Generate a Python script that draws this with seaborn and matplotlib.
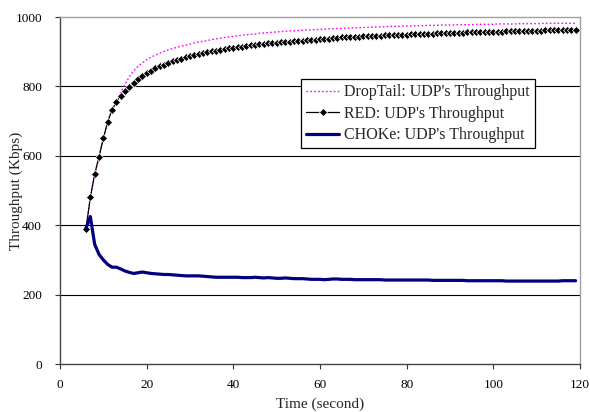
import seaborn as sns
import matplotlib.pyplot as plt
import pandas as pd

time = list(range(6, 120))

droptail = [390, 480, 547, 597, 650, 698, 732, 758, 782, 806,
            828, 845, 858, 868, 877, 884, 890, 896, 901, 905,
            909, 913, 916, 919, 922, 925, 928, 930, 932, 935,
            937, 939, 941, 943, 944, 946, 947, 949, 950, 951,
            953, 954, 955, 956, 957, 958, 959, 960, 960, 961,
            962, 963, 963, 964, 964, 965, 966, 966, 967, 967,
            968, 968, 969, 969, 970, 970, 971, 971, 972, 972,
            973, 973, 973, 974, 974, 974, 975, 975, 975, 976,
            976, 976, 977, 977, 977, 977, 978, 978, 978, 978,
            979, 979, 979, 979, 979, 980, 980, 980, 980, 980,
            981, 981, 981, 981, 981, 981, 982, 982, 982, 982,
            982, 982, 982, 982]

red = [390, 480, 547, 597, 650, 698, 732, 756, 773, 788,
       799, 810, 820, 830, 838, 845, 852, 858, 863, 868,
       872, 876, 880, 884, 887, 890, 893, 896, 899, 901,
       903, 905, 907, 910, 912, 914, 915, 917, 918, 920,
       921, 922, 924, 925, 926, 927, 928, 929, 930, 931,
       932, 933, 934, 935, 936, 937, 938, 939, 940, 941,
       941, 942, 943, 943, 944, 945, 945, 946, 946, 947,
       947, 948, 948, 949, 949, 950, 950, 951, 951, 952,
       952, 953, 953, 954, 954, 955, 955, 955, 956, 956,
       956, 957, 957, 957, 958, 958, 958, 959, 959, 959,
       960, 960, 960, 961, 961, 961, 962, 962, 962, 963,
       963, 963, 964, 964]

choke = [392, 425, 345, 316, 300, 287, 279, 279, 274, 268,
         264, 261, 263, 265, 263, 261, 260, 259, 258, 258,
         257, 256, 255, 254, 254, 254, 254, 253, 252, 251,
         250, 250, 250, 250, 250, 250, 249, 249, 249, 250,
         249, 248, 249, 248, 247, 247, 248, 247, 246, 246,
         246, 245, 244, 244, 244, 243, 244, 245, 245, 244,
         244, 244, 243, 243, 243, 243, 243, 243, 243, 242,
         242, 242, 242, 242, 242, 242, 242, 242, 242, 242,
         241, 241, 241, 241, 241, 241, 241, 241, 240, 240,
         240, 240, 240, 240, 240, 240, 240, 239, 239, 239,
         239, 239, 239, 239, 239, 239, 239, 239, 239, 239,
         240, 240, 240, 240]

df = pd.DataFrame({"time": time, "droptail": droptail, "red": red, "choke": choke})

sns.set_style("white")
plt.rcParams["font.family"] = ["Liberation Serif", "DejaVu Serif"]

fig = plt.figure(figsize=(5.9, 4.12), dpi=100)
ax = fig.add_axes([0.1017, 0.1165, 0.8813, 0.8422])

sns.lineplot(data=df, x="time", y="droptail", ax=ax, color="#ff00ff", lw=1.0,
             linestyle=(0, (1.2, 1.6)), label="DropTail: UDP's Throughput", zorder=3)
sns.lineplot(data=df, x="time", y="red", ax=ax, color="black", lw=0.9, marker="D",
             markersize=3.8, markeredgewidth=0.5, label="RED: UDP's Throughput", zorder=4)
sns.lineplot(data=df, x="time", y="choke", ax=ax, color="#000080", lw=2.3,
             label="CHOKe: UDP's Throughput", zorder=5)

ax.set_xlim(0, 120)
ax.set_ylim(0, 1000)
ax.set_xticks(range(0, 121, 20))
ax.set_yticks(range(0, 1001, 200))
for v in [200, 400, 600, 800]:
    ax.axhline(v, color="black", lw=0.8, zorder=1)

ax.tick_params(axis="both", direction="out", length=3.5, width=0.8, colors="#333333",
               labelsize=9.5, labelcolor="black", left=True, bottom=True)
ax.tick_params(axis="x", pad=7.5)
ax.tick_params(axis="y", pad=9.5)

for side in ["left", "bottom"]:
    ax.spines[side].set_color("#444444")
    ax.spines[side].set_linewidth(1.0)
for side in ["top", "right"]:
    ax.spines[side].set_color("#a0a0a0")
    ax.spines[side].set_linewidth(1.0)

ax.set_xlabel("Time (second)", fontsize=11)
ax.set_ylabel("Throughput (Kbps)", fontsize=11)
ax.xaxis.set_label_coords(0.5, -0.098)
ax.yaxis.set_label_coords(-0.071, 0.5)

leg = ax.legend(loc="upper left", bbox_to_anchor=(0.4635, 0.8205), fontsize=11.5,
                frameon=True, fancybox=False, edgecolor="black", framealpha=1,
                handlelength=2.1, handletextpad=0.3, borderpad=0.3, labelspacing=0.35,
                borderaxespad=0)
leg.get_frame().set_linewidth(0.9)
leg.set_zorder(10)

fig.savefig("out.png", dpi=100)
